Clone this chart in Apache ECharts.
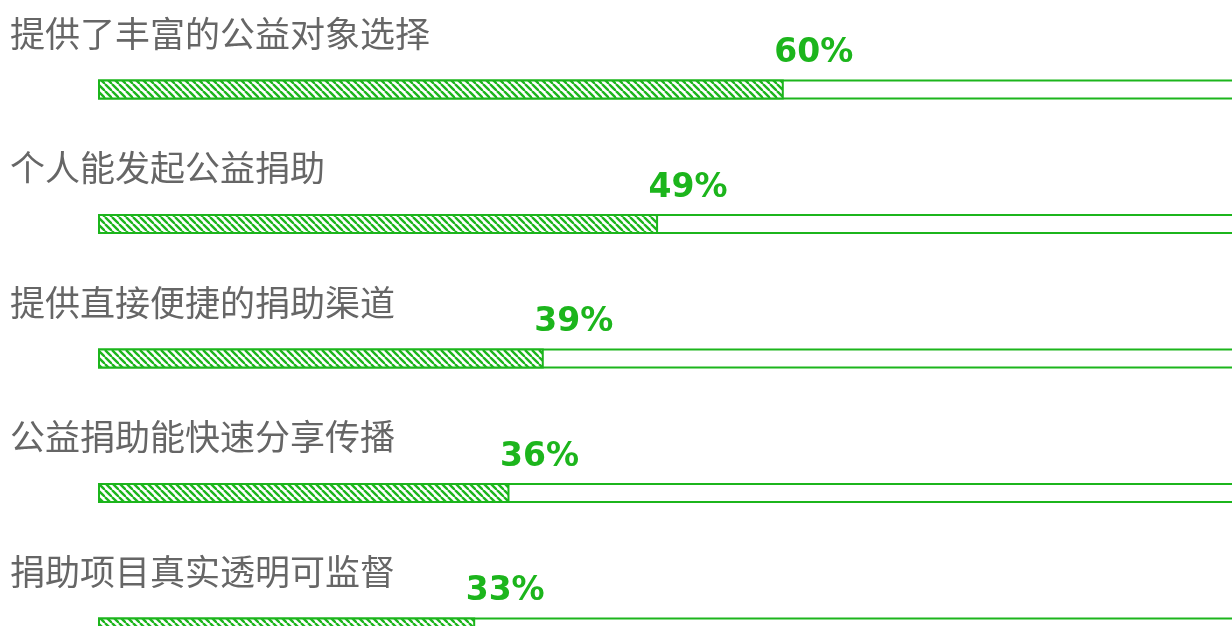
<!DOCTYPE html>
<html>
<head>
<meta charset="utf-8">
<script src="https://cdn.jsdelivr.net/npm/echarts@6/dist/echarts.min.js"></script>
<style>
  html, body { margin: 0; padding: 0; background: #fff; overflow: hidden; }
  #chart { width: 1232px; height: 720px; }
</style>
</head>
<body>
<div id="chart"></div>
<script>
// 数据
const categories = [
  '提供了丰富的公益对象选择',
  '个人能发起公益捐助',
  '提供直接便捷的捐助渠道',
  '公益捐助能快速分享传播',
  '捐助项目真实透明可监督'
];
const values = [60, 49, 39, 36, 33];
const fullValues = [100, 100, 100, 100, 100];

const green = '#1cb51c';

// 斜线填充
function makeHatch() {
  const s = 7;
  const c = document.createElement('canvas');
  c.width = s;
  c.height = s;
  const g = c.getContext('2d');
  g.fillStyle = '#fff';
  g.fillRect(0, 0, s, s);
  g.strokeStyle = green;
  g.lineWidth = 2.4;
  for (let k = -1; k <= 1; k++) {
    g.beginPath();
    g.moveTo(k * s, 0);
    g.lineTo(k * s + s, s);
    g.stroke();
  }
  return c;
}

const chart = echarts.init(document.getElementById('chart'));

chart.setOption({
  animation: false,
  backgroundColor: '#fff',
  grid: {
    left: 98, top: 22.25, width: 1143, height: 672.5,
    containLabel: false,
    outerBoundsMode: 'none'
  },
  xAxis: {
    type: 'value',
    min: 0,
    max: 100,
    show: false
  },
  yAxis: {
    type: 'category',
    data: categories,
    inverse: true,
    axisLine: { show: false },
    axisTick: { show: false },
    axisLabel: {
      align: 'left',
      margin: 88,
      verticalAlign: 'bottom',
      lineHeight: 112,
      fontSize: 35,
      color: '#666',
      fontFamily: '"Noto Sans CJK SC", sans-serif'
    }
  },
  series: [
    {
      type: 'bar',
      data: fullValues,
      barWidth: 20,
      barGap: '-100%',
      silent: true,
      z: 1,
      itemStyle: { color: '#fff', borderColor: green, borderWidth: 2 }
    },
    {
      type: 'bar',
      data: values,
      barWidth: 20,
      z: 2,
      itemStyle: {
        color: { image: makeHatch(), repeat: 'repeat' },
        borderColor: green,
        borderWidth: 2
      },
      label: {
        show: true,
        position: ['100%', '50%'],
        align: 'center',
        verticalAlign: 'middle',
        offset: [30, -36],
        formatter: p => p.value + '%',
        fontSize: 33,
        fontWeight: 'bold',
        color: green,
        fontFamily: '"DejaVu Sans", sans-serif'
      }
    }
  ]
});
</script>
</body>
</html>
